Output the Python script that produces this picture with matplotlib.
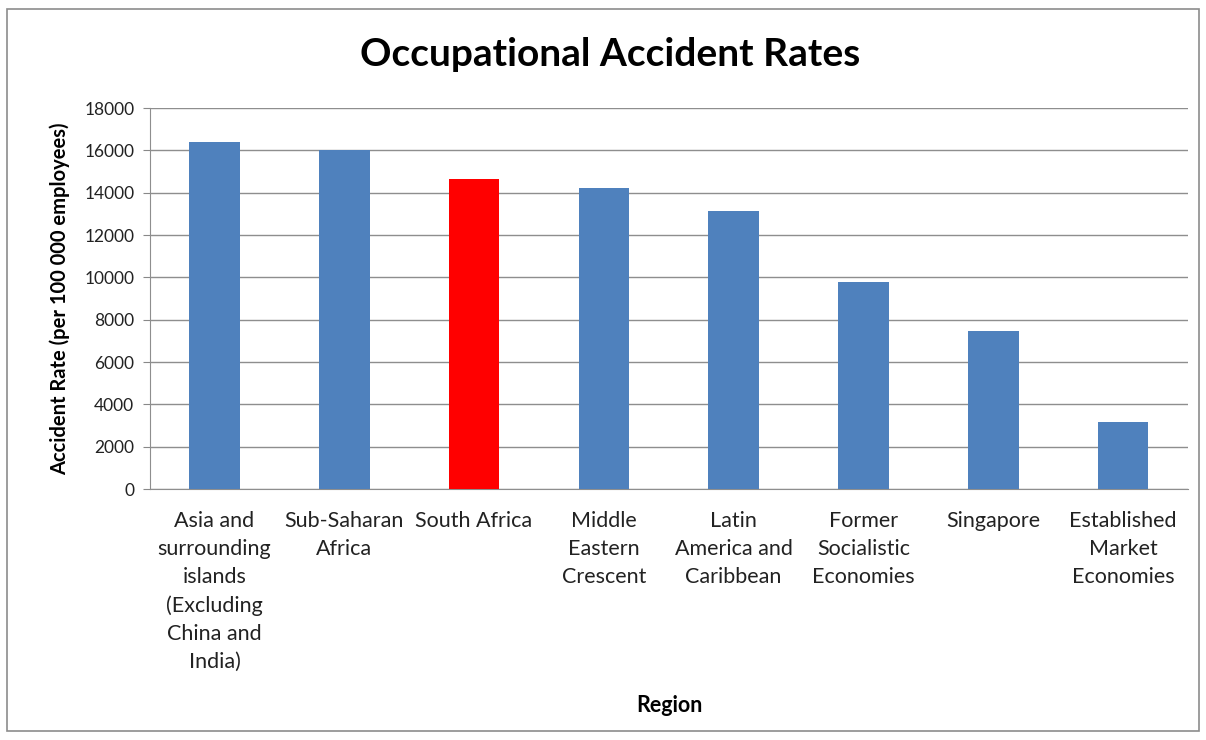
import matplotlib.pyplot as plt
from matplotlib.patches import Rectangle

# data
regions = ['Asia and\nsurrounding\nislands\n(Excluding\nChina and\nIndia)',
           'Sub-Saharan\nAfrica', 'South Africa', 'Middle\nEastern\nCrescent',
           'Latin\nAmerica and\nCaribbean', 'Former\nSocialistic\nEconomies',
           'Singapore', 'Established\nMarket\nEconomies']
rates = [16400, 16000, 14650, 14200, 13150, 9800, 7450, 3150]
highlight = 'South Africa'
y_ticks = [0, 2000, 4000, 6000, 8000, 10000, 12000, 14000, 16000, 18000]

BLUE = '#4f81bd'
RED = '#ff0000'

plt.rcParams['font.family'] = ['Lato', 'DejaVu Sans']

fig = plt.figure(figsize=(12.06, 7.40), dpi=100)
fig.patches.append(Rectangle((0.006, 0.012), 0.988, 0.976, transform=fig.transFigure,
                             fill=False, edgecolor='#8c8c8c', linewidth=1.2))
ax = fig.add_axes([0.124, 0.339, 0.861, 0.515])

colors = [RED if r == highlight else BLUE for r in regions]
x = range(len(regions))
ax.bar(x, rates, width=0.39, color=colors, zorder=3)

ax.set_xlim(-0.5, len(regions) - 0.5)
ax.set_ylim(0, 18000)
ax.set_yticks(y_ticks)
ax.set_yticklabels([str(v) for v in y_ticks], fontsize=12.5, color='#222222')
ax.set_xticks(list(x))
ax.set_xticklabels(regions, fontsize=15.5, color='#222222', linespacing=1.49, va='top')
ax.tick_params(axis='x', length=0, pad=16)
ax.tick_params(axis='y', length=5, color='#888888', pad=6)

ax.grid(axis='y', color='#8e8e8e', linewidth=1, zorder=0)
for s in ['top', 'right']:
    ax.spines[s].set_visible(False)
ax.spines['left'].set_color('#8e8e8e')
ax.spines['bottom'].set_color('#8e8e8e')

ax.set_ylabel('Accident Rate (per 100 000 employees)', fontsize=14.5, fontweight='bold', labelpad=10)
fig.text(0.555, 0.038, 'Region', ha='center', fontsize=15.5, fontweight='bold')
fig.text(0.506, 0.926, 'Occupational Accident Rates', ha='center', va='center',
         fontsize=28, fontweight='bold')

plt.savefig('out.png', dpi=100)
